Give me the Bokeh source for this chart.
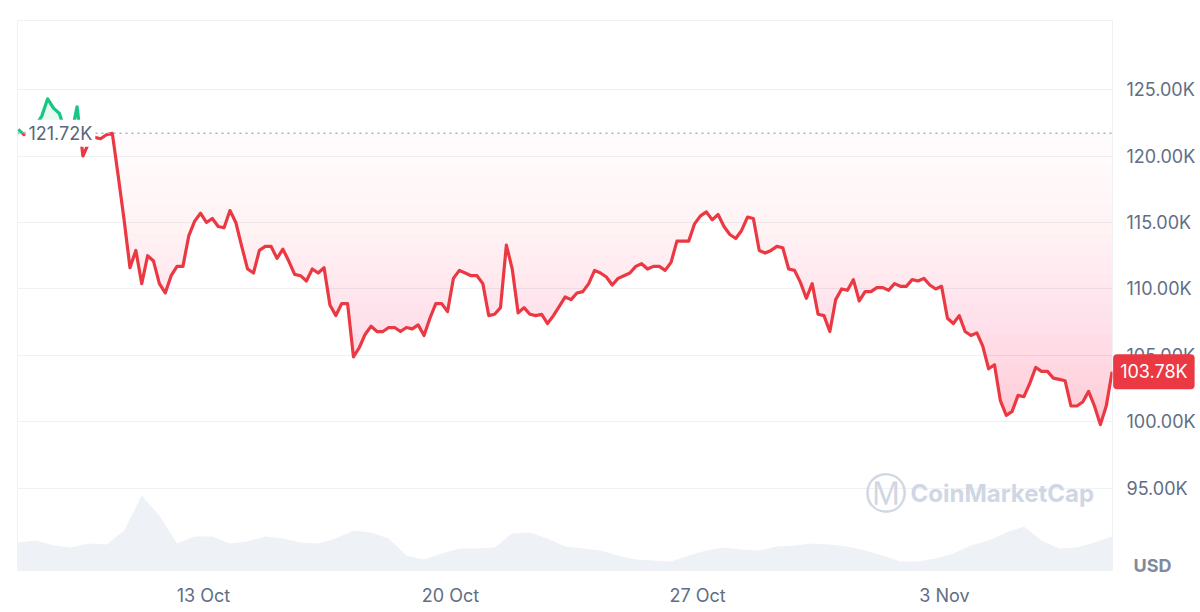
import numpy as np
import pandas as pd
from bokeh.plotting import figure
from bokeh.models import Range1d, FixedTicker, PrintfTickFormatter, Span, Label
from bokeh.embed import file_html
from bokeh.resources import INLINE

# BTC price (thousand USD), one value every 4 hours
start = pd.Timestamp("2025-10-07 18:00")
base_price = 121.72
prices = [
    122.0, 121.6, 121.9, 122.3, 123.0, 124.3, 123.6, 123.2, 121.8, 121.5,
    123.7, 120.0, 121.0, 121.4, 121.3, 121.6, 121.7, 118.5, 115.2, 111.6,
    112.9, 110.4, 112.5, 112.1, 110.4, 109.7, 111.0, 111.7, 111.7, 114.0,
    115.1, 115.7, 115.0, 115.3, 114.7, 114.6, 115.9, 115.0, 113.2, 111.5,
    111.2, 112.9, 113.2, 113.2, 112.3, 113.0, 112.1, 111.1, 111.0, 110.6,
    111.5, 111.2, 111.6, 108.8, 108.0, 108.9, 108.9, 104.9, 105.6, 106.6,
    107.2, 106.8, 106.8, 107.1, 107.1, 106.8, 107.1, 107.0, 107.3, 106.5,
    107.8, 108.9, 108.9, 108.3, 110.8, 111.4, 111.2, 111.0, 111.0, 110.4,
    108.0, 108.1, 108.6, 113.3, 111.5, 108.2, 108.6, 108.1, 108.0, 108.1,
    107.4, 108.0, 108.7, 109.4, 109.2, 109.7, 109.8, 110.4, 111.4, 111.2,
    110.9, 110.3, 110.8, 111.0, 111.2, 111.7, 111.9, 111.5, 111.7, 111.7,
    111.4, 112.0, 113.6, 113.6, 113.6, 114.9, 115.5, 115.8, 115.2, 115.6,
    114.7, 114.1, 113.8, 114.4, 115.4, 115.3, 112.9, 112.7, 112.9, 113.2,
    113.1, 111.5, 111.4, 110.5, 109.3, 110.4, 108.1, 108.0, 106.8, 109.2,
    110.0, 109.9, 110.7, 109.1, 109.8, 109.8, 110.1, 110.1, 109.9, 110.4,
    110.2, 110.2, 110.7, 110.6, 110.8, 110.3, 110.0, 110.2, 107.8, 107.4,
    108.0, 106.8, 106.5, 106.7, 105.7, 104.0, 104.3, 101.6, 100.5, 100.8,
    102.0, 101.9, 102.9, 104.1, 103.8, 103.8, 103.3, 103.2, 103.1, 101.2,
    101.2, 101.5, 102.3, 101.2, 99.8, 101.2, 103.78,
]

# traded volume (billion USD), one value every 12 hours
volumes = [
    33.6, 36.0, 30.0, 27.6, 32.4, 31.2, 48.0, 90.0, 66.0, 32.4,
    40.8, 40.8, 32.4, 34.8, 40.8, 38.4, 33.6, 32.4, 38.4, 48.0,
    45.6, 38.4, 18.0, 13.2, 20.4, 26.4, 26.4, 27.6, 44.4, 45.6,
    38.4, 28.8, 26.4, 24.0, 18.0, 13.2, 12.0, 10.8, 18.0, 24.0,
    27.6, 25.2, 24.0, 28.8, 30.0, 32.4, 31.2, 28.8, 24.0, 18.0,
    10.8, 10.8, 14.4, 20.4, 30.0, 36.0, 45.6, 52.8, 36.0, 26.4,
    27.6, 33.6, 40.8,
]

tick_dates = ["2025-10-13", "2025-10-20", "2025-10-27", "2025-11-03"]
tick_labels = ["13 Oct", "20 Oct", "27 Oct", "3 Nov"]
price_ticks = [95, 100, 105, 110, 115, 120, 125]

RED = "#ea3943"
GREEN = "#16c784"
TEXT = "#616e85"
GRID = "#eff2f5"
FONT = "Inter"
FSIZE = "18px"

EPOCH = pd.Timestamp("1970-01-01")


def to_ms(ts):
    return ((ts - EPOCH) / pd.Timedelta(milliseconds=1))


price = np.array(prices)
t_ms = np.asarray(to_ms(start + pd.to_timedelta(np.arange(len(prices)) * 4, unit="h")), dtype=float)
vol_ms = np.asarray(to_ms(start + pd.to_timedelta(np.arange(len(volumes)) * 12, unit="h")), dtype=float)
tick_ms = [float(to_ms(pd.Timestamp(d))) for d in tick_dates]


def with_crossings(t, v, lev):
    # add the points where the series crosses a level
    xs, ys = [t[0]], [v[0]]
    for k in range(1, len(v)):
        if (v[k - 1] - lev) * (v[k] - lev) < 0:
            xs.append(t[k - 1] + (lev - v[k - 1]) / (v[k] - v[k - 1]) * (t[k] - t[k - 1]))
            ys.append(lev)
        xs.append(t[k])
        ys.append(v[k])
    return np.array(xs), np.array(ys)


def split_runs(t, v, lev):
    xs, ys = with_crossings(t, v, lev)
    runs = {True: ([], []), False: ([], [])}
    side = ys[0] >= lev
    cx, cy = [xs[0]], [ys[0]]
    for x, y in zip(xs[1:], ys[1:]):
        cx.append(x)
        cy.append(y)
        if y == lev and len(cx) > 1:
            runs[side][0].append(cx)
            runs[side][1].append(cy)
            side = not side
            cx, cy = [x], [y]
    runs[side][0].append(cx)
    runs[side][1].append(cy)
    return runs


p = figure(
    x_axis_type="datetime", y_axis_location="right",
    frame_width=1095, frame_height=550,
    x_range=Range1d(float(to_ms(pd.Timestamp("2025-10-07 17:30"))),
                    float(to_ms(pd.Timestamp("2025-11-07 18:15")))),
    y_range=Range1d(88.83, 130.19),
    min_border_left=17, min_border_top=20, min_border_right=88, min_border_bottom=42,
    output_backend="svg", toolbar_location=None,
)
p.extra_y_ranges = {"vol": Range1d(0, 660)}
p.background_fill_color = "white"
p.border_fill_color = "white"
p.outline_line_color = GRID

# volume
p.varea(x=vol_ms, y1=0, y2=volumes, fill_color="#eef1f5", y_range_name="vol")

# fills between the line and the opening price, getting stronger downwards
xs_c, ys_c = with_crossings(t_ms, price, base_price)
p.varea(x=xs_c, y1=base_price, y2=np.maximum(ys_c, base_price), fill_color=GREEN, fill_alpha=0.1)
levels = np.linspace(base_price, price.min(), 30)
depth = (base_price - levels) / (base_price - price.min())
total = 0.025 + 0.21 * depth ** 1.7
prev = 0.0
for lev, tot in zip(levels, total):
    lx, ly = with_crossings(t_ms, price, lev)
    p.varea(x=lx, y1=np.minimum(ly, lev), y2=lev, fill_color=RED,
            fill_alpha=1 - (1 - tot) / (1 - prev))
    prev = tot

base_line = Span(location=base_price, dimension="width", line_color="#a6b0c3",
                 line_dash="2 4", line_width=1.5)
p.add_layout(base_line)

runs = split_runs(t_ms, price, base_price)
p.multi_line(xs=runs[False][0], ys=runs[False][1], line_color=RED, line_width=3.2, line_join="round")
p.multi_line(xs=runs[True][0], ys=runs[True][1], line_color=GREEN, line_width=3.2, line_join="round")

# axes
p.xgrid.visible = False
p.ygrid.ticker = FixedTicker(ticks=price_ticks)
p.ygrid.grid_line_color = GRID

p.yaxis.ticker = FixedTicker(ticks=price_ticks)
p.yaxis.formatter = PrintfTickFormatter(format="%.2fK")
p.xaxis.ticker = FixedTicker(ticks=tick_ms)
p.xaxis.major_label_overrides = dict(zip(tick_ms, tick_labels))
for ax in (p.xaxis, p.yaxis):
    ax.axis_line_color = None
    ax.major_tick_line_color = None
    ax.minor_tick_line_color = None
    ax.major_label_text_font = FONT
    ax.major_label_text_font_size = FSIZE
    ax.major_label_text_color = TEXT
p.yaxis.major_label_standoff = 8
p.xaxis.major_label_standoff = 8

open_label = Label(x=p.x_range.start, y=base_price, x_offset=8, text=f"{base_price:.2f}K",
                   text_baseline="middle", text_font=FONT, text_font_size=FSIZE,
                   text_color="#58667e", background_fill_color="white", padding=3)
p.add_layout(open_label)

logo = Label(x=847, y=77, x_units="screen", y_units="screen", text="\u24c2",
             text_baseline="middle", text_font="DejaVu Sans", text_font_size="42px",
             text_color="#cfd6e4")
brand = Label(x=893, y=77, x_units="screen", y_units="screen", text="CoinMarketCap",
              text_baseline="middle", text_font=FONT, text_font_size="24px",
              text_font_style="bold", text_color="#cfd6e4")
p.add_layout(logo)
p.add_layout(brand)

# labels outside the frame go into the right panel
last_label = Label(x=t_ms[-1], y=price[-1], x_offset=1, text=f"{price[-1]:.2f}K",
                   text_baseline="middle", text_font=FONT, text_font_size=FSIZE,
                   text_color="white", background_fill_color=RED, padding=7,
                   border_radius=4)
usd = Label(x=p.x_range.end, y=p.y_range.start, x_offset=21, y_offset=5, text="USD",
            text_baseline="middle", text_font=FONT, text_font_size=FSIZE,
            text_font_style="bold", text_color="#808a9d")
p.add_layout(last_label, "right")
p.add_layout(usd, "right")

open("out.html", "w").write(file_html(p, INLINE))
